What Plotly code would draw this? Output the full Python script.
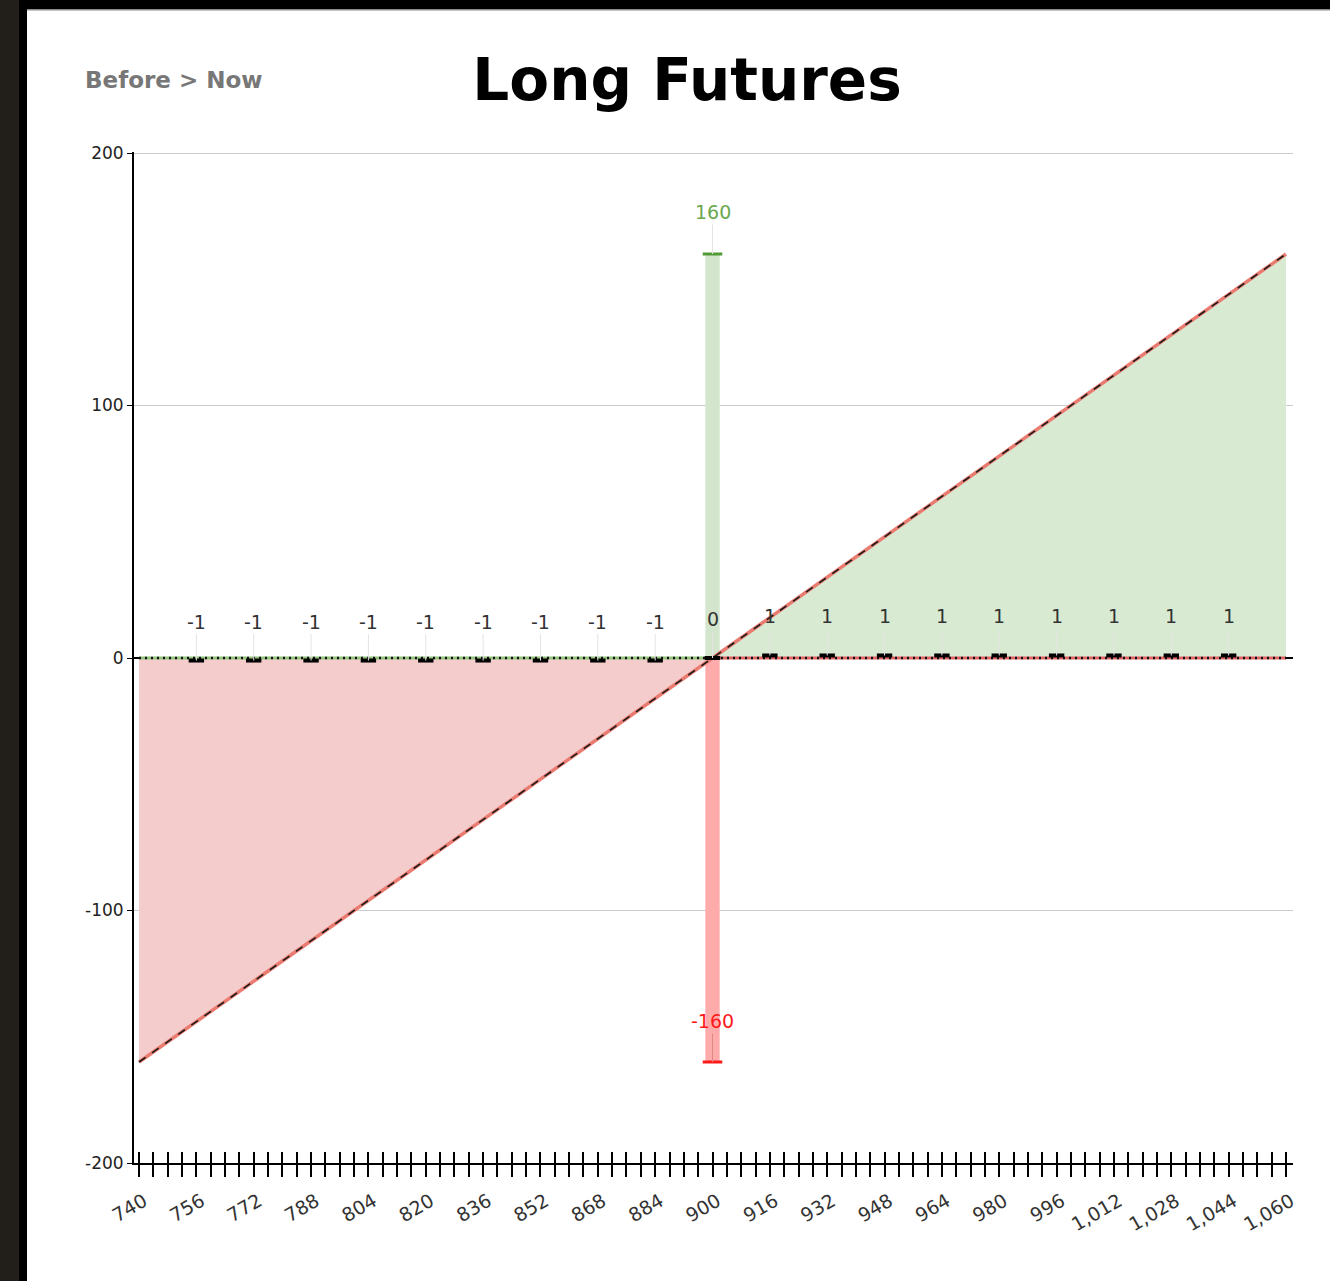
import plotly.graph_objects as go

# ---- data ----
payoff_x_loss = [740, 900]
payoff_y_loss = [-160, 0]
payoff_x_gain = [900, 1060]
payoff_y_gain = [0, 160]
before_x_left = [740, 900]
before_x_right = [900, 1060]
before_y = [0, 0]

delta_x = [756, 772, 788, 804, 820, 836, 852, 868, 884, 900,
           916, 932, 948, 964, 980, 996, 1012, 1028, 1044]
delta_y = [-1, -1, -1, -1, -1, -1, -1, -1, -1, 0,
           1, 1, 1, 1, 1, 1, 1, 1, 1]

range_x = [900]
range_max = [160]
range_min = [-160]

tick_vals = list(range(740, 1061, 4))
label_vals = list(range(740, 1061, 16))
y_ticks = [-200, -100, 0, 100, 200]
y_tick_text = ["-200", "-100", "0", "100", "200"]

title_text = "Long Futures"
subtitle_text = "Before > Now"

# ---- geometry helpers (pixel -> paper) ----
W, H = 1330, 1281
L, R, T, B = 134, 1293, 152, 1163
def px(x): return (x - L) / (R - L)
def py(y): return (B - y) / (B - T)

fig = go.Figure()

# filled areas
fig.add_trace(go.Scatter(x=payoff_x_loss, y=payoff_y_loss, fill="tozeroy",
                         fillcolor="#f4cccc", mode="none", hoverinfo="skip"))
fig.add_trace(go.Scatter(x=payoff_x_gain, y=payoff_y_gain, fill="tozeroy",
                         fillcolor="#d9ead3", mode="none", hoverinfo="skip"))

# range bar at strike
fig.add_trace(go.Bar(x=range_x, y=range_max, width=4, marker_color="#d3e5cc",
                     marker_line_width=0, hoverinfo="skip"))
fig.add_trace(go.Bar(x=range_x, y=range_min, width=4, marker_color="#ffabab",
                     marker_line_width=0, hoverinfo="skip"))
fig.add_trace(go.Scatter(x=range_x, y=range_max, mode="markers",
                         marker=dict(symbol="line-ew", size=14,
                                     line=dict(color="#4f9a35", width=3)),
                         hoverinfo="skip"))
fig.add_trace(go.Scatter(x=range_x, y=range_min, mode="markers",
                         marker=dict(symbol="line-ew", size=14,
                                     line=dict(color="#ff1a1a", width=3)),
                         hoverinfo="skip"))

# before line at zero
fig.add_trace(go.Scatter(x=before_x_left, y=before_y, mode="lines",
                         line=dict(color="#93c47d", width=3), hoverinfo="skip"))
fig.add_trace(go.Scatter(x=before_x_right, y=before_y, mode="lines",
                         line=dict(color="#e06666", width=3), hoverinfo="skip"))
fig.add_trace(go.Scatter(x=before_x_left + before_x_right[1:], y=before_y + [0],
                         mode="lines",
                         line=dict(color="#111111", width=2.5, dash="2px,4px"),
                         hoverinfo="skip"))

# payoff line
px_all = payoff_x_loss + payoff_x_gain[1:]
py_all = payoff_y_loss + payoff_y_gain[1:]
fig.add_trace(go.Scatter(x=px_all, y=py_all, mode="lines",
                         line=dict(color="#ea7b70", width=3.5), hoverinfo="skip"))
fig.add_trace(go.Scatter(x=px_all, y=py_all, mode="lines",
                         line=dict(color="#1a1a1a", width=1.6, dash="8px,8px"),
                         hoverinfo="skip"))

# delta markers
fig.add_trace(go.Scatter(x=delta_x, y=delta_y, mode="markers",
                         marker=dict(symbol="line-ew", size=11,
                                     line=dict(color="#000000", width=4)),
                         hoverinfo="skip"))

# invisible trace for overlay axis (inner ticks)
fig.add_trace(go.Scatter(x=[740], y=[0], xaxis="x2", mode="markers",
                         marker=dict(opacity=0), hoverinfo="skip"))

lbl_font = "DejaVu Sans, Noto Sans"
annotations = []
for xv, yv in zip(delta_x, delta_y):
    annotations.append(dict(x=xv, y=yv, xref="x", yref="y", text=str(yv),
                            showarrow=True, arrowhead=0, arrowwidth=1,
                            arrowcolor="#e4e4e4", ax=0, ay=-39,
                            font=dict(family=lbl_font, size=19, color="#333333")))
for xv, yv in zip(range_x, range_max):
    annotations.append(dict(x=xv, y=yv, xref="x", yref="y", text=str(yv),
                            showarrow=True, arrowhead=0, arrowwidth=1,
                            arrowcolor="#e4e4e4", ax=0, ay=-42,
                            font=dict(family=lbl_font, size=19, color="#6aa84f")))
for xv, yv in zip(range_x, range_min):
    annotations.append(dict(x=xv, y=yv, xref="x", yref="y", text=str(yv),
                            showarrow=True, arrowhead=0, arrowwidth=1,
                            arrowcolor="#dd8888", ax=0, ay=-41,
                            font=dict(family=lbl_font, size=19, color="#ff1a1a")))
annotations.append(dict(x=px(83), y=py(80), xref="paper", yref="paper",
                        xanchor="left", yanchor="middle", showarrow=False,
                        text="<b>" + subtitle_text + "</b>",
                        font=dict(family="DejaVu Sans", size=23, color="#777777")))

shapes = [
    dict(type="rect", xref="paper", yref="paper", x0=px(0), x1=px(W), y0=py(0), y1=py(H),
         fillcolor="#221f1b", line_width=0, layer="below"),
    dict(type="rect", xref="paper", yref="paper", x0=px(19), x1=px(W), y0=py(0), y1=py(H),
         fillcolor="#000000", line_width=0, layer="below"),
    dict(type="rect", xref="paper", yref="paper", x0=px(27), x1=px(W), y0=py(9), y1=py(H),
         fillcolor="#8a8a8a", line_width=0, layer="below"),
    dict(type="rect", xref="paper", yref="paper", x0=px(27), x1=px(W), y0=py(10.5), y1=py(H),
         fillcolor="#ffffff", line_width=0, layer="below"),
]

xrange = [738.6, 1061.95]
tick_text = [(f"{v:,}" if v in label_vals else "") for v in tick_vals]

fig.update_layout(
    width=W, height=H, autosize=False,
    margin=dict(l=L, r=W - R, t=T, b=H - B, pad=0),
    paper_bgcolor="#221f1b", plot_bgcolor="rgba(0,0,0,0)",
    showlegend=False, barmode="overlay",
    title=dict(text="<b>" + title_text + "</b>", x=687 / W, xanchor="center",
               y=1 - 80 / H, yanchor="middle", xref="container",
               font=dict(family="DejaVu Sans", size=58, color="#000000")),
    xaxis=dict(range=xrange, tickmode="array", tickvals=tick_vals, ticktext=tick_text,
               ticks="outside", ticklen=12, tickwidth=2, tickcolor="#000000",
               tickangle=-30, showgrid=False, zeroline=False,
               ticklabelstandoff=6, ticklabelshift=5,
               showline=True, linecolor="#000000", linewidth=2,
               tickfont=dict(family="DejaVu Sans", size=19, color="#333333")),
    xaxis2=dict(range=xrange, overlaying="x", side="bottom", anchor="y",
                tickmode="array", tickvals=tick_vals, showticklabels=False,
                ticks="inside", ticklen=11, tickwidth=2, tickcolor="#000000",
                showgrid=False, zeroline=False, showline=False),
    yaxis=dict(range=[-200, 200.4], tickmode="array", tickvals=y_ticks,
               ticktext=y_tick_text,
               ticks="outside", ticklen=5, tickcolor="#000000",
               showgrid=True, gridcolor="#cccccc", gridwidth=1,
               zeroline=True, zerolinecolor="#000000", zerolinewidth=1.5,
               showline=True, linecolor="#000000", linewidth=2,
               tickfont=dict(family="DejaVu Sans", size=17, color="#222222")),
    annotations=annotations, shapes=shapes,
)

fig.write_html("out.html", config={"displayModeBar": False},
               post_script="document.body.style.margin='0';")
